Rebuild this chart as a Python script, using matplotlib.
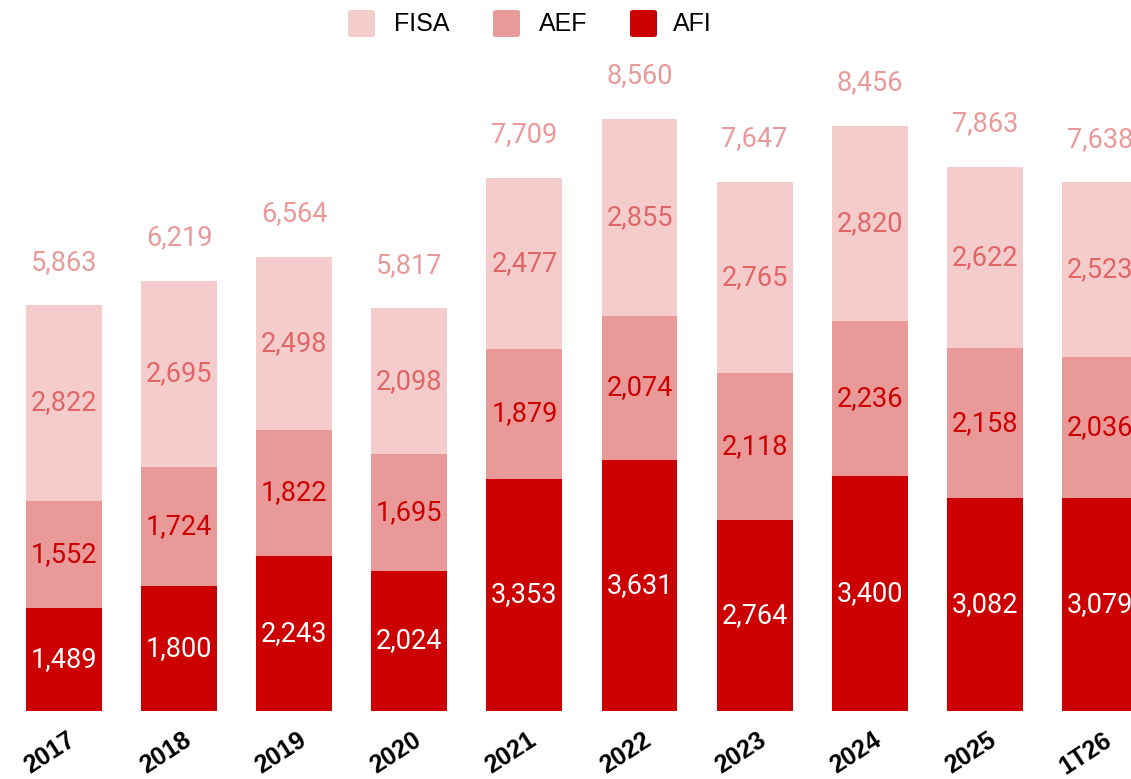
import numpy as np
import matplotlib.pyplot as plt
import matplotlib.transforms as mtransforms
from matplotlib.patches import FancyBboxPatch

# Datos
periodos = ["2017", "2018", "2019", "2020", "2021", "2022", "2023", "2024", "2025", "1T26"]
afi = [1489, 1800, 2243, 2024, 3353, 3631, 2764, 3400, 3082, 3079]
aef = [1552, 1724, 1822, 1695, 1879, 2074, 2118, 2236, 2158, 2036]
fisa = [2822, 2695, 2498, 2098, 2477, 2855, 2765, 2820, 2622, 2523]
totales = [5863, 6219, 6564, 5817, 7709, 8560, 7647, 8456, 7863, 7638]

c_fisa = "#f4cccc"
c_aef = "#ea9999"
c_afi = "#cc0000"

fig = plt.figure(figsize=(11.31, 7.79), dpi=100)
ax = fig.add_axes([0, 68 / 779, 1, 711 / 779])

x = np.arange(len(periodos))
afi = np.array(afi)
aef = np.array(aef)
fisa = np.array(fisa)
alto = afi + aef + fisa

ancho = 0.66
ax.bar(x, afi, ancho, color=c_afi)
ax.bar(x, aef, ancho, bottom=afi, color=c_aef)
ax.bar(x, fisa, ancho, bottom=afi + aef, color=c_fisa)

fuente = "Roboto"
tam = 19.5
for i in range(len(x)):
    ax.text(x[i], afi[i] / 2, f"{afi[i]:,}", ha="center", va="center",
            color="white", fontsize=tam, family=fuente)
    ax.text(x[i], afi[i] + aef[i] / 2, f"{aef[i]:,}", ha="center", va="center",
            color="#cc0000", fontsize=tam, family=fuente)
    ax.text(x[i], afi[i] + aef[i] + fisa[i] / 2, f"{fisa[i]:,}", ha="center",
            va="center", color="#e06666", fontsize=tam, family=fuente)
    ax.annotate(f"{totales[i]:,}", (x[i], alto[i]), xytext=(0, 31),
                textcoords="offset points", ha="center", va="center",
                color="#ea9999", fontsize=tam, family=fuente)

ax.set_xlim(-64 / 115.1, (1131 - 64) / 115.1)
ax.set_ylim(0, 711 / 0.0692)
ax.set_xticks(x)
ax.set_xticklabels(periodos, rotation=33, ha="right", va="top", rotation_mode="anchor",
                   fontsize=18, fontweight="bold", family="Liberation Sans")
ax.tick_params(axis="x", length=0, pad=12)
desplazo = mtransforms.ScaledTranslation(3 / 100, 0, fig.dpi_scale_trans)
for t in ax.get_xticklabels():
    t.set_transform(t.get_transform() + desplazo)
ax.set_yticks([])
for s in ax.spines.values():
    s.set_visible(False)

# Leyenda
items = [("FISA", c_fisa, 348, 394), ("AEF", c_aef, 493, 539), ("AFI", c_afi, 630, 673)]
for nombre, col, xs, xt in items:
    p = FancyBboxPatch((xs / 1131, 1 - 37 / 779), 27 / 1131, 27 / 779,
                       boxstyle="round,pad=0,rounding_size=0.003",
                       transform=fig.transFigure, color=col, linewidth=0)
    fig.patches.append(p)
    fig.text(xt / 1131, 1 - 24 / 779, nombre, ha="left", va="center",
             fontsize=18, family="Liberation Sans", color="black")

fig.savefig("out.png", dpi=100)
